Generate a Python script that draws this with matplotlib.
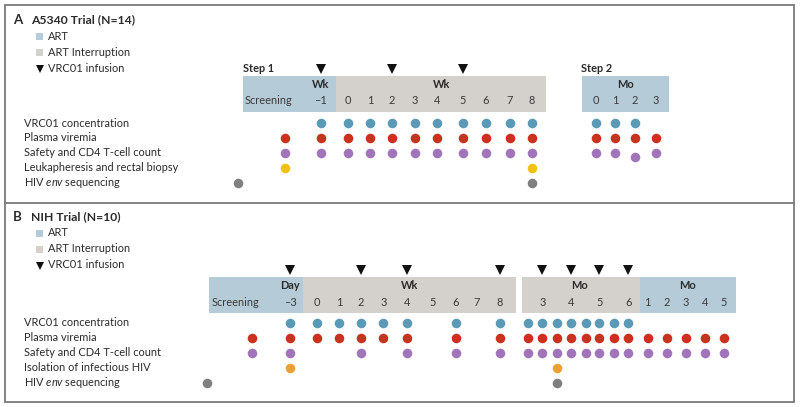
import matplotlib
matplotlib.use("Agg")
import matplotlib.pyplot as plt
from matplotlib.patches import Rectangle

plt.rcParams['font.family'] = ['Lato', 'DejaVu Sans']
plt.rcParams['mathtext.fontset'] = 'custom'
plt.rcParams['mathtext.rm'] = 'Lato'
plt.rcParams['mathtext.it'] = 'Lato:italic'

# ---- data ----
rows_A = ["VRC01 concentration", "Plasma viremia", "Safety and CD4 T-cell count",
          "Leukapheresis and rectal biopsy", "HIV $\\mathit{env}$ sequencing"]
rows_B = ["VRC01 concentration", "Plasma viremia", "Safety and CD4 T-cell count",
          "Isolation of infectious HIV", "HIV $\\mathit{env}$ sequencing"]

wkA = ["W-1", "W0", "W1", "W2", "W3", "W4", "W5", "W6", "W7", "W8"]
A_vrc01 = wkA + ["S0", "S1", "S2"]
A_plasma = ["SCR"] + wkA + ["S0", "S1", "S2", "S3"]
A_safety = ["SCR"] + wkA + ["S0", "S1", "S2", "S3"]
A_leuk = ["SCR", "W8"]
A_env = ["PRE", "W8"]
A_infusion = ["W-1", "W2", "W5"]

B_vrc01 = ["D-3", "W0", "W1", "W2", "W3", "W4", "W6", "W8",
           "M2.5", "M3", "M3.5", "M4", "M4.5", "M5", "M5.5", "M6"]
B_plasma = ["SCR", "D-3", "W0", "W1", "W2", "W3", "W4", "W6", "W8",
            "M2.5", "M3", "M3.5", "M4", "M4.5", "M5", "M5.5", "M6",
            "P1", "P2", "P3", "P4", "P5"]
B_safety = ["SCR", "D-3", "W2", "W4", "W6", "W8",
            "M2.5", "M3", "M3.5", "M4", "M4.5", "M5", "M5.5", "M6",
            "P1", "P2", "P3", "P4", "P5"]
B_iso = ["D-3", "M3.5"]
B_env = ["PRE", "M3.5"]
B_infusion = ["D-3", "W2", "W4", "W8", "M3", "M4", "M5", "M6"]

# ---- layout (pixel columns) ----
colA = {"PRE": 238, "SCR": 285, "W-1": 320.5, "W0": 347.7, "W1": 370, "W2": 391.7,
        "W3": 415, "W4": 437, "W5": 463, "W6": 485.7, "W7": 510, "W8": 531.7,
        "S0": 595.7, "S1": 615, "S2": 635, "S3": 655.7}
colB = {"PRE": 206.7, "SCR": 252.3, "D-3": 290, "W0": 316.5, "W1": 339, "W2": 361,
        "W3": 383.3, "W4": 406.7, "W5": 432.3, "W6": 455.7, "W7": 476.7, "W8": 500,
        "M2.5": 528.3, "M3": 542.3, "M3.5": 556.7, "M4": 571, "M4.5": 585.7,
        "M5": 599.3, "M5.5": 614, "M6": 628.3,
        "P1": 647.7, "P2": 666.7, "P3": 685.7, "P4": 705, "P5": 724}

BLUE_BOX = "#b6cbd8"
GRAY_BOX = "#d4d0cb"
dot_colors = ["#5b9ab6", "#c8321f", "#a274b9", "#f0c20f", "#7f7f7f"]
TXT = "#2b2b2b"
FS = 7.9

fig = plt.figure(figsize=(8, 4.07), dpi=100)
ax = fig.add_axes([0, 0, 1, 1])
ax.set_xlim(0, 800)
ax.set_ylim(407, 0)
ax.axis("off")

# frame
ax.add_patch(Rectangle((5, 5), 789, 397, fill=False, ec="#7a7a7a", lw=1.3))
ax.plot([5, 794], [203, 203], color="#7a7a7a", lw=1.3)


def legend(y0, letter, title):
    ax.text(13, y0, letter, fontsize=9.5, fontweight="bold", va="center", color=TXT)
    ax.text(31, y0, title, fontsize=8.7, fontweight="bold", va="center", color=TXT)
    ax.add_patch(Rectangle((35.5, y0 + 12.5), 7.5, 7.5, color=BLUE_BOX, lw=0))
    ax.text(48, y0 + 16, "ART", fontsize=FS, va="center", color=TXT)
    ax.add_patch(Rectangle((35.5, y0 + 28.5), 7.5, 7.5, color=GRAY_BOX, lw=0))
    ax.text(48, y0 + 32, "ART Interruption", fontsize=FS, va="center", color=TXT)
    ax.plot(39.5, y0 + 48.5, marker="v", ms=6, color="#111111", mew=0)
    ax.text(48, y0 + 48, "VRC01 infusion", fontsize=FS, va="center", color=TXT)


def box(x0, x1, y0, y1, c):
    ax.add_patch(Rectangle((x0, y0), x1 - x0, y1 - y0, color=c, lw=0))


def dots(keys, cols, y, c, offsets=None):
    for k in keys:
        dy = offsets.get(k, 0) if offsets else 0
        ax.plot(cols[k], y + dy, "o", ms=6.9, color=c, mew=0)


def tri(keys, cols, y):
    for k in keys:
        ax.plot(cols[k], y, marker="v", ms=6.5, color="#111111", mew=0)


def bold(x, y, s, **kw):
    ax.text(x, y, s, fontsize=FS, fontweight="bold", va="center", color=TXT, **kw)


# ---------- Panel A ----------
legend(20, "A", "A5340 Trial (N=14)")
rowyA = [123.3, 137.5, 152.5, 167.5, 182.5]
for lab, y in zip(rows_A, rowyA):
    ax.text(24, y, lab, fontsize=FS, va="center", color=TXT)

box(243, 336, 76, 112, BLUE_BOX)
box(336, 546, 76, 112, GRAY_BOX)
box(581.7, 669.3, 76, 112, BLUE_BOX)
bold(243, 68, "Step 1")
bold(581, 68, "Step 2")
bold(colA["W-1"], 84, "Wk", ha="center")
bold(441.7, 84, "Wk", ha="center")
bold(625.7, 84, "Mo", ha="center")
ax.text(245, 100.5, "Screening", fontsize=FS, va="center", color="#3a3a3a")
for k in wkA + ["S0", "S1", "S2", "S3"]:
    lab = k[1:].replace("-", "\u2013")
    ax.text(colA[k], 100.5, lab, fontsize=FS, ha="center", va="center", color="#3a3a3a")
tri(A_infusion, colA, 68.5)

dots(A_vrc01, colA, rowyA[0], dot_colors[0])
dots(A_plasma, colA, rowyA[1], dot_colors[1])
dots(A_safety, colA, rowyA[2], dot_colors[2], offsets={"S2": 4.8})
dots(A_leuk, colA, rowyA[3], dot_colors[3])
dots(A_env, colA, rowyA[4], dot_colors[4])

# ---------- Panel B ----------
legend(217, "B", "NIH Trial (N=10)")
rowyB = [323, 337.5, 352.5, 367.8, 383]
for lab, y in zip(rows_B, rowyB):
    ax.text(24, y, lab, fontsize=FS, va="center", color=TXT)

box(209.3, 303.3, 277, 313.3, BLUE_BOX)
box(303.3, 515.7, 277, 313.3, GRAY_BOX)
box(521.7, 640, 277, 313.3, GRAY_BOX)
box(640, 736, 277, 313.3, BLUE_BOX)
bold(colB["D-3"], 285.5, "Day", ha="center")
bold(410, 285.5, "Wk", ha="center")
bold(579.3, 285.5, "Mo", ha="center")
bold(687.3, 285.5, "Mo", ha="center")
ax.text(211.5, 302.7, "Screening", fontsize=FS, va="center", color="#3a3a3a")
tickB = [("D-3", "\u20133"), ("W0", "0"), ("W1", "1"), ("W2", "2"), ("W3", "3"),
         ("W4", "4"), ("W5", "5"), ("W6", "6"), ("W7", "7"), ("W8", "8"),
         ("M3", "3"), ("M4", "4"), ("M5", "5"), ("M6", "6"),
         ("P1", "1"), ("P2", "2"), ("P3", "3"), ("P4", "4"), ("P5", "5")]
for k, lab in tickB:
    ax.text(colB[k], 302.7, lab, fontsize=FS, ha="center", va="center", color="#3a3a3a")
tri(B_infusion, colB, 269.5)

dots(B_vrc01, colB, rowyB[0], dot_colors[0])
dots(B_plasma, colB, rowyB[1], dot_colors[1])
dots(B_safety, colB, rowyB[2], dot_colors[2])
dots(B_iso, colB, rowyB[3], "#eda035")
dots(B_env, colB, rowyB[4], dot_colors[4])

fig.savefig("out.png", dpi=100)
